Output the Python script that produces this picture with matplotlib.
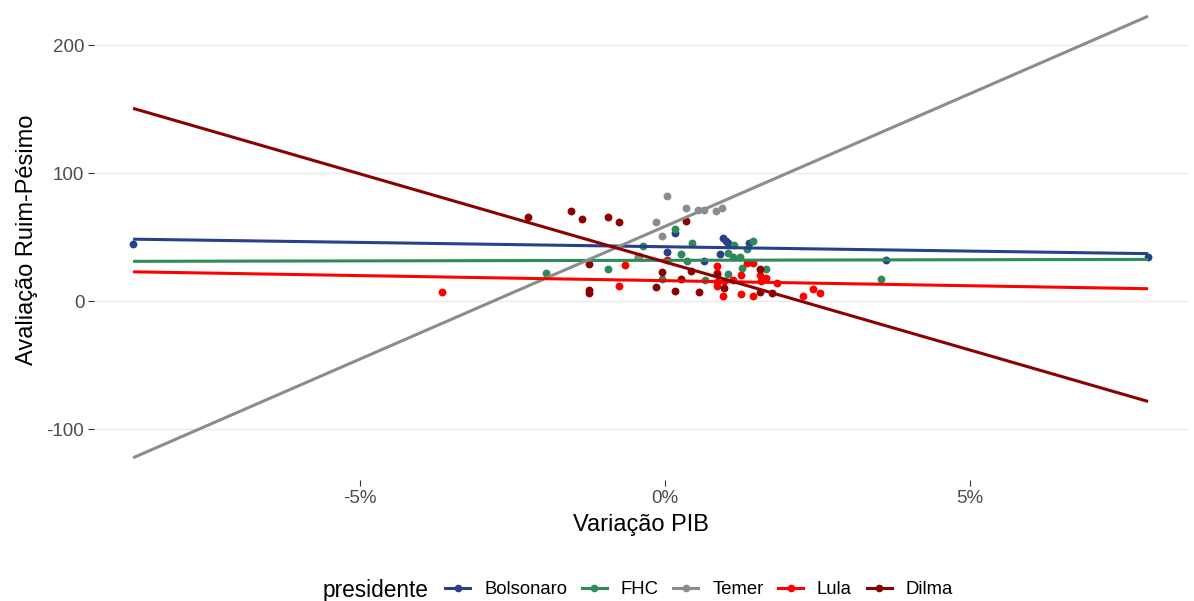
import matplotlib
matplotlib.use("Agg")
import matplotlib.pyplot as plt
from matplotlib.lines import Line2D

plt.rcParams['font.family'] = ['Liberation Sans', 'DejaVu Sans']
plt.rcParams['axes.unicode_minus'] = False

# ---------------- data ----------------
presidents = ["Bolsonaro", "FHC", "Temer", "Lula", "Dilma"]
colors = {"Bolsonaro": "#27408B", "FHC": "#2E8B57", "Temer": "#8C8C8C",
          "Lula": "#FF0000", "Dilma": "#8B0000"}

bolsonaro_x = [-8.72, 7.92, 3.63, 0.16, 0.04, 0.95, 1.04, 1.37, 0.90, 0.64, 1.00]
bolsonaro_y = [44.5, 34.4, 32.0, 53.0, 38.5, 49.0, 45.0, 45.0, 37.0, 31.0, 47.0]

fhc_x = [-1.95, -0.93, -0.36, -0.45, -0.05, 0.16, 0.44, 0.26, 0.36, 1.03, 1.11,
         1.23, 1.13, 1.44, 1.35, 1.26, 1.66, 1.03, 0.66, 3.54]
fhc_y = [22.0, 25.0, 43.0, 34.0, 17.0, 56.0, 45.0, 37.0, 31.0, 37.5, 34.6,
         34.6, 43.7, 47.0, 41.0, 25.5, 25.0, 21.0, 16.4, 17.0]

temer_x = [0.04, 0.34, 0.54, 0.64, 0.84, 0.94, -0.15, -0.05, -0.42]
temer_y = [82.0, 73.0, 71.0, 71.0, 70.0, 73.0, 62.0, 51.0, 35.0]

lula_x = [-3.66, -0.66, -0.75, 0.04, 0.86, 0.86, 0.86, 0.95, 1.24, 1.25, 1.34,
          1.44, 1.44, 1.56, 1.57, 1.66, 1.83, 0.97, 2.26, 2.43, 2.54, 0.85, 1.12]
lula_y = [7.0, 28.0, 11.7, 32.0, 27.6, 21.6, 15.0, 4.0, 20.6, 5.2, 29.4,
          29.4, 4.0, 20.3, 16.0, 17.7, 13.8, 15.3, 4.0, 9.0, 6.5, 11.7, 16.4]

dilma_x = [-2.24, -1.54, -1.36, -0.94, -0.75, 0.34, -1.25, -1.25, -1.25, -0.05,
           -0.15, 0.16, 0.26, 0.43, 0.56, 0.85, 0.96, 1.56, 1.56, 1.75]
dilma_y = [65.4, 70.5, 63.8, 65.4, 62.0, 62.7, 28.7, 8.6, 6.0, 22.9,
           11.2, 7.8, 17.2, 23.4, 7.3, 20.9, 10.5, 25.0, 7.3, 6.0]

# fitted regression lines (values read at the ends of the full x range)
fit_x = [-8.72, 7.92]
fit_bolsonaro = [48.3, 37.0]
fit_fhc = [31.0, 32.5]
fit_temer = [-122.5, 222.5]
fit_lula = [22.8, 9.6]
fit_dilma = [150.5, -78.5]

points = {"Bolsonaro": (bolsonaro_x, bolsonaro_y), "FHC": (fhc_x, fhc_y),
          "Temer": (temer_x, temer_y), "Lula": (lula_x, lula_y),
          "Dilma": (dilma_x, dilma_y)}
fits = {"Bolsonaro": fit_bolsonaro, "FHC": fit_fhc, "Temer": fit_temer,
        "Lula": fit_lula, "Dilma": fit_dilma}

y_ticks = [-100, 0, 100, 200]
x_ticks = [-5, 0, 5]
x_ticklabels = ["-5%", "0%", "5%"]

# ---------------- figure ----------------
W, H = 1194, 601
fig = plt.figure(figsize=(W / 100, H / 100), dpi=100)
left_px, right_px, top_px, bottom_px = 94, 1188, 0, 480
ax = fig.add_axes([left_px / W, 1 - bottom_px / H,
                   (right_px - left_px) / W, (bottom_px - top_px) / H])

x0_px, x_scale = 665, 61.0
y0_px, y_scale = 301, 1.28
ax.set_xlim((left_px - x0_px) / x_scale, (right_px - x0_px) / x_scale)
ax.set_ylim((y0_px - bottom_px) / y_scale, (y0_px - top_px) / y_scale)

for p in presidents:
    xs, ys = points[p]
    ax.scatter(xs, ys, s=32, color=colors[p], zorder=3, linewidths=0)
for p in presidents:
    ax.plot(fit_x, fits[p], color=colors[p], lw=2.2, zorder=4,
            solid_capstyle='butt')

ax.set_yticks(y_ticks)
ax.set_xticks(x_ticks)
ax.set_xticklabels(x_ticklabels)
ax.grid(axis='y', color='#EBEBEB', lw=1.0)
ax.grid(axis='x', visible=False)
ax.set_axisbelow(True)
for s in ax.spines.values():
    s.set_visible(False)
ax.tick_params(axis='both', colors='#333333', labelcolor='#4D4D4D',
               labelsize=13.5, length=4, width=0.8, pad=3)

ax.set_xlabel("Variação PIB", fontsize=17, color='black', labelpad=5)
ax.set_ylabel("Avaliação Ruim-Pésimo", fontsize=17, color='black', labelpad=6)

# legend
handles = [Line2D([0], [0], color=colors[p], lw=2.2, marker='o', markersize=5.5,
                  markeredgewidth=0) for p in presidents]
fig.text(323 / W, 1 - 590 / H, "presidente", fontsize=16.3, ha='left', va='center')
fig.legend(handles, presidents, ncol=5, loc='center left',
           bbox_to_anchor=(436 / W, 1 - 590 / H), frameon=False, fontsize=13.3,
           borderpad=0, handlelength=1.35, handletextpad=0.75, columnspacing=0.8,
           numpoints=1)

fig.savefig("out.png", dpi=100)
